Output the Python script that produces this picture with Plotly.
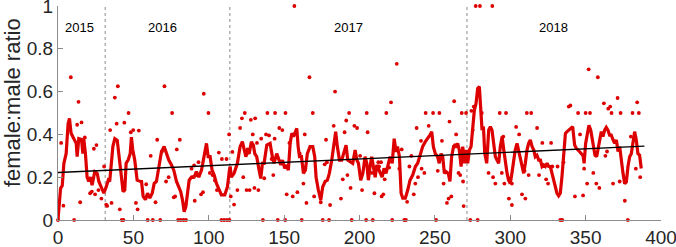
import plotly.graph_objects as go

# moving average (thick red line)
ma_x = [0, 1.7, 2.8, 3.9, 5.4, 6.7, 7.6, 8.7, 10.5, 12.1, 12.7, 13.8, 15.6, 16.5, 17.1, 18.2, 19.3, 20.4, 21.5, 22.6,
        24.4, 26, 27.1, 28.8, 30.4, 32, 33.3, 34.3, 35.5, 36.4, 37.7, 39.3, 40.8, 42.1, 43.2, 44.3, 45.2, 46.5, 47.9,
        48.7, 49.6, 50.9, 52.5, 54.7, 55.4, 56.5, 58, 59.4, 60.9, 62.5, 63.8, 65.3, 66.8, 68.6, 70.4, 71.9, 73.5,
        75.3, 76.8, 78.6, 80.1, 81.4, 82.6, 83.7, 84.8, 85.9, 87, 88.5, 90.3, 91.8, 93.4, 95.2, 96.9, 98.5, 99.6,
        100.9, 102.2, 103.6, 105.1, 106.7, 108.4, 110.6, 112.4, 113.7, 114.2, 115, 116.8, 119, 120.8, 122.3, 123.5,
        124.6, 125.7, 126.8, 128.3, 129.6, 130.5, 131.8, 133.4, 134.5, 135.6, 136.7, 138.5, 140.7, 142.2, 143.3,
        145.1, 146.7, 147.8, 148.9, 150.4, 151.7, 152.8, 154, 155.1, 156.2, 157.3, 158.4, 159.3, 160.2, 161.5,
        162.8, 164.1, 165.4, 167.2, 169, 170.3, 171.2, 172.7, 174.3, 175.6, 177.2, 178.7, 180, 181.6, 183.2, 184.2,
        185.3, 186.7, 188.2, 189.8, 191.1, 192.2, 193.8, 195.5, 197.1, 198.2, 199.3, 200.8, 202.2, 203.7, 204.8,
        205.9, 207, 208.1, 209.2, 210.4, 211.5, 212.6, 213.7, 215, 216.3, 217.6, 219.2, 220.3, 221.7, 223, 224.3,
        225.2, 226.5, 227.6, 228.7, 230.4, 232, 233.5, 235.3, 237.1, 238.6, 240.2, 241.9, 243.7, 245.2, 246.8,
        247.9, 249, 250.3, 251.8, 252.9, 254.1, 255.2, 256.3, 257.4, 258.9, 260, 261.1, 262.4, 264, 265.1, 266.2,
        267.4, 268.5, 269.6, 270.7, 271.8, 272.9, 274, 275.1, 276.2, 277.3, 278.4, 279.5, 280.4, 281.3, 282.2,
        283.1, 284.4, 285.7, 286.8, 287.9, 289, 290.1, 291.2, 292.3, 293.4, 294.6, 295.7, 296.8, 297.9, 298.9,
        300, 301.1, 302.2, 303.3, 304.5, 305.6, 306.7, 307.8, 308.9, 310, 311.1, 312.2, 313.3, 314.5, 315.6,
        316.6, 317.7, 318.9, 320, 321.1, 322.2, 323.3, 324.4, 325.5, 326.6, 327.7, 328.8, 329.9, 331, 332.1,
        333.2, 334.3, 335.4, 336.6, 337.7, 338.8, 339.9, 341.4, 342.7, 343.8, 345, 346.1, 347.2, 348.3, 349,
        350, 351.3, 352.2, 353.4, 354.5, 355.4, 356.2, 357.3, 358.2, 359.3, 360.4, 361.5, 362.6, 363.7, 364.8,
        365.9, 367, 368.2, 369.3, 370.4, 371.5, 372.6, 373.7, 374.8, 375.9, 377, 378.1, 379.2, 380.3, 381.4,
        382.5, 383.6, 384.7, 385.8, 386.9]
ma_y = [0, 0.148, 0.16, 0.265, 0.31, 0.45, 0.475, 0.405, 0.38, 0.358, 0.296, 0.38, 0.376, 0.31, 0.38, 0.31, 0.2,
        0.18, 0.2, 0.163, 0.226, 0.218, 0.18, 0.155, 0.125, 0.155, 0.186, 0.18, 0.265, 0.343, 0.38, 0.372, 0.28,
        0.186, 0.132, 0.14, 0.265, 0.28, 0.31, 0.387, 0.327, 0.28, 0.186, 0.18, 0.18, 0.11, 0.095, 0.125, 0.102,
        0.125, 0.171, 0.18, 0.25, 0.318, 0.343, 0.31, 0.28, 0.257, 0.233, 0.18, 0.148, 0.132, 0.093, 0.039, 0.062,
        0.125, 0.186, 0.2, 0.2, 0.226, 0.2, 0.233, 0.31, 0.358, 0.296, 0.296, 0.233, 0.21, 0.171, 0.14, 0.117,
        0.117, 0.155, 0.233, 0.25, 0.2, 0.218, 0.265, 0.343, 0.366, 0.335, 0.296, 0.318, 0.31, 0.366, 0.35, 0.31,
        0.296, 0.233, 0.194, 0.265, 0.265, 0.35, 0.358, 0.296, 0.265, 0.31, 0.28, 0.257, 0.28, 0.241, 0.257,
        0.233, 0.358, 0.405, 0.39, 0.405, 0.428, 0.343, 0.296, 0.296, 0.218, 0.233, 0.31, 0.343, 0.343, 0.296,
        0.2, 0.14, 0.093, 0.155, 0.18, 0.186, 0.218, 0.28, 0.358, 0.413, 0.343, 0.28, 0.28, 0.327, 0.35, 0.28,
        0.272, 0.265, 0.327, 0.28, 0.265, 0.186, 0.218, 0.296, 0.265, 0.186, 0.25, 0.296, 0.25, 0.2, 0.257,
        0.241, 0.218, 0.2, 0.241, 0.218, 0.265, 0.296, 0.265, 0.38, 0.318, 0.343, 0.296, 0.125, 0.102, 0.102,
        0.14, 0.186, 0.21, 0.25, 0.265, 0.31, 0.343, 0.366, 0.38, 0.397, 0.413, 0.343, 0.31, 0.296, 0.265, 0.31,
        0.296, 0.218, 0.226, 0.218, 0.18, 0.296, 0.343, 0.343, 0.358, 0.327, 0.25, 0.343, 0.265, 0.327, 0.265,
        0.327, 0.343, 0.45, 0.514, 0.545, 0.615, 0.623, 0.514, 0.42, 0.436, 0.31, 0.265, 0.42, 0.436, 0.42,
        0.358, 0.296, 0.28, 0.265, 0.343, 0.39, 0.327, 0.265, 0.218, 0.186, 0.17, 0.218, 0.28, 0.327, 0.358,
        0.32, 0.28, 0.25, 0.218, 0.265, 0.327, 0.358, 0.374, 0.343, 0.327, 0.296, 0.303, 0.28, 0.28, 0.25,
        0.257, 0.25, 0.265, 0.25, 0.25, 0.218, 0.186, 0.163, 0.125, 0.113, 0.125, 0.203, 0.31, 0.405, 0.413,
        0.42, 0.428, 0.436, 0.35, 0.335, 0.327, 0.32, 0.31, 0.3, 0.265, 0.358, 0.42, 0.443, 0.42, 0.374, 0.327,
        0.303, 0.296, 0.327, 0.358, 0.413, 0.39, 0.42, 0.433, 0.42, 0.397, 0.397, 0.374, 0.358, 0.374, 0.32,
        0.343, 0.265, 0.218, 0.17, 0.178, 0.25, 0.296, 0.31, 0.358, 0.413, 0.374, 0.31, 0.303, 0.241]

# individual observations (red dots)
dot_x = [0, 2.1, 3.6, 8.5, 13.6, 12.7, 15.6, 14.7, 10.7, 17.8, 23.8, 25.5, 21.3, 22.4, 24.6, 26.8, 28.8, 30.6, 32,
         32.6, 35.5, 37.7, 39.7, 38.9, 34.6, 41, 42.3, 43.4, 44, 46.8, 48.3, 49.9, 53.6, 51.7, 52.8,
         59.5, 62.9, 67.8, 58.5, 64.7, 61.5, 65.8, 70.6, 75.7, 68.9, 71.7, 73.4, 78.8, 80.8, 76.8, 77.7, 79.7,
         81.4, 83.2, 84.9, 90.7, 88.6, 90.3, 93.2, 89.3, 91.9, 94.9, 96.2, 96.7, 99.8, 100.7, 102.5, 104.1,
         105.4, 106.7, 108.7, 111.8, 113.5, 108.4, 110.2, 112, 113.7,
         115.7, 114.6, 116.8, 119, 120.8, 122, 123.9, 122.9, 125.1, 127.1, 125.7, 127.9, 130.8, 129.2, 130.3,
         132.9, 132, 134.8, 136.8, 135.9, 138, 140, 138.9, 144, 141.7, 143.7, 142.8, 146.8, 148.8, 145.8, 150.7,
         150.9, 151.7, 153.5, 155.7, 156.8, 158.8, 160.4, 161.7, 162.8, 163.7, 164.8, 166.8, 169, 169.9,
         175.6, 179.8, 174.3, 177.8, 176.9, 178.4, 180.5, 182.9, 183.8, 187.7, 188.9, 190.1, 191.2, 193.1, 192,
         194.1, 194.8, 196.6, 198.4, 200.4, 201.7, 204.4, 208.8, 204.8, 205.4, 208.3, 209.9, 212.5, 214.3, 213,
         214.7, 215.8, 216.7, 217.8, 220.9, 221.7, 219.7, 224.7,
         226.4, 229.7, 230.8, 228, 231.6, 233.1, 234.4, 236, 237, 237.9, 238.8, 240.8, 241.2, 243, 243.9, 245.9,
         248.8, 253, 250.8, 251.9, 254.7, 255.8, 258, 259.1, 260.9, 259.7, 262.8, 263.3, 264.1, 265.7, 266.8,
         267.8, 270.7, 269.1, 268.7, 273.5, 278.4, 274.2, 275.1, 275.8, 277.1, 279.9, 281.1,
         288.1, 285.6, 288.6, 290.1, 293, 297.2, 295.4, 294.4, 296.1, 299.1, 301.1, 301.1, 303.9, 305.9, 307.8,
         310, 309.5, 311, 313.9, 312.2, 317.8, 319.1, 321.3, 323.8, 325.1, 327.1, 327.9, 331.4, 333.2, 334.5,
         335.3, 338.8, 339.9,
         342.9, 345, 350, 352.9, 346.3, 348.3, 349, 351, 352, 355.1, 357.1, 359.1, 358.1, 362.1, 365, 366.3,
         367.2, 373.2, 363.1, 364.2, 368.2, 372.6, 371.2, 376, 378, 380, 381.1, 385.3, 384.2, 383.3, 386.2]
dot_y = [0, 0.36, 0.067, 0.667, 0.552, 0.445, 0.456, 0.083, 0, 0.386, 0.333, 0.35, 0.125, 0.133, 0.12, 0.14, 0.1,
         0.25, 0.072, 0.066, 0.08, 0.572, 0.625, 0.45, 0.42, 0.05, 0, 0, 0.455, 0.5, 0.41, 0.42, 0.418, 0.08, 0.05,
         0, 0, 0, 0.167, 0.083, 0.3, 0.375, 0.625, 0.5, 0.32, 0.18, 0.2, 0.33, 0.375, 0.106, 0.11, 0,
         0, 0, 0, 0.09, 0.24, 0.255, 0.27, 0.2, 0.21, 0.12, 0.13, 0.59, 0.5, 0.22, 0.21, 0.185,
         0.14, 0.315, 0.285, 0.285, 0.4, 0, 0, 0, 0,
         0.318, 0.11, 0.072, 0.14, 0.43, 0.475, 0.5, 0.2, 0.14, 0.14, 0.33, 0.468, 0.475, 0.4, 0.15,
         0.14, 0.36, 0.38, 0.195, 0, 0.4, 0.395, 0.5, 0.5, 0.285, 0.38, 0.21, 0.43, 0.42, 0, 0,
         0.5, 0.12, 0.36, 0.11, 1.0, 0.13, 0.31, 0, 0.17, 0.4, 0.08, 0.667, 0.5, 0.11,
         0, 0, 0.083, 0.375, 0.26, 0.27, 0.07, 0.44, 0.6, 0.1, 0.19, 0.41, 0.465, 0.5, 0.21,
         0.15, 0, 0.44, 0.43, 0.3, 0.14, 0, 0, 0.5, 0.41, 0.22, 0.125, 0.27, 0.27, 0.25,
         0.11, 0.12, 0.19, 0.5, 0.55, 0, 0.245, 0.73,
         0.24, 0, 0, 0.33, 0.085, 0.25, 0.3, 0.12, 0.17, 0.43, 0.2, 0.37, 0.24, 0.22, 0.5, 0.44,
         0.5, 0.5, 0, 0.23, 0.37, 0.17, 0.08, 0.1, 0.11, 0.46, 0.555, 0.35, 0.4, 0.22, 0.21,
         0.5, 0.5, 0.065, 0.18, 0, 0, 0.51, 0.42, 0.53, 1.0, 1.0, 0.5,
         1.0, 0.22, 0.2, 0.17, 0.5, 0.5, 0.39, 0.22, 0.17, 0.1, 0.07, 0.17, 0.435, 0.4, 0.12,
         0.1, 0.23, 0.5, 0.5, 0.21, 0.43, 0.21, 0.36, 0.19, 0.17, 0.36, 0.25, 0.25, 0, 0,
         0.27, 0.53, 0.535,
         0.11, 0.5, 0.5, 0.5, 0.4, 0.115, 0.24, 0.17, 0.704, 0.22, 0.17, 0.15, 0.667, 0.545, 0.52, 0.53,
         0.5, 0.5, 0.3, 0.32, 0.17, 0.18, 0.57, 0.09, 0, 0.39, 0.5, 0.5, 0.55, 0.24, 0.2]

# linear trend
trend_x = [0, 389]
trend_y = [0.222, 0.345]

# year labels and boundaries
years = ["2015", "2016", "2017", "2018"]
year_x = [14.3, 69.4, 192.6, 329]
year_y = 0.9
boundaries = [31.3, 114, 271.3]

x_ticks = [0, 50, 100, 150, 200, 250, 300, 350, 400]
y_ticks = [0, 0.2, 0.4, 0.6, 0.8, 1]
y_tick_labels = ["0", "0.2", "0.4", "0.6", "0.8", "1"]

RED = "#DD0000"
AXIS = "#8C8C8C"
TXT = "#262626"
FONT = "Liberation Sans, Arial, Helvetica, sans-serif"

fig = go.Figure()

for b in boundaries:
    fig.add_trace(go.Scatter(x=[b, b], y=[0, 1], mode="lines",
                             line=dict(color="#8A8A8A", width=1, dash="dot"),
                             hoverinfo="skip", showlegend=False))

fig.add_trace(go.Scatter(x=dot_x, y=dot_y, mode="markers",
                         marker=dict(color=RED, size=3.8, line=dict(width=0)),
                         cliponaxis=False, showlegend=False))

fig.add_trace(go.Scatter(x=ma_x, y=ma_y, mode="lines",
                         line=dict(color=RED, width=3.2), showlegend=False))

fig.add_trace(go.Scatter(x=trend_x, y=trend_y, mode="lines",
                         line=dict(color="black", width=1.4), showlegend=False))

for t, xv in zip(years, year_x):
    fig.add_annotation(x=xv, y=year_y, text=t, showarrow=False,
                       font=dict(family=FONT, size=13, color="black"),
                       xanchor="center", yanchor="middle")

fig.add_annotation(xref="paper", yref="paper", x=-0.075, y=0.55,
                   text="female:male ratio", textangle=-90, showarrow=False,
                   font=dict(family=FONT, size=22, color=TXT),
                   xanchor="center", yanchor="middle")

fig.update_layout(
    width=676, height=247,
    margin=dict(l=57.5, r=15, t=6, b=27, autoexpand=False),
    paper_bgcolor="white", plot_bgcolor="white",
    font=dict(family=FONT, color=TXT),
    xaxis=dict(range=[0, 400], tickvals=x_ticks, ticks="inside", ticklen=5,
               tickcolor=AXIS, showline=True, linecolor=AXIS, linewidth=1,
               automargin=False, ticklabeloverflow="allow",
               showgrid=False, zeroline=False, tickfont=dict(size=19, color=TXT)),
    yaxis=dict(range=[0, 1], tickvals=y_ticks, ticktext=y_tick_labels, ticks="inside",
               ticklen=5, tickcolor=AXIS, showline=True, linecolor=AXIS, linewidth=1,
               automargin=False, ticklabeloverflow="allow",
               showgrid=False, zeroline=False, tickfont=dict(size=19, color=TXT)),
)

fig.write_html("out.html")
